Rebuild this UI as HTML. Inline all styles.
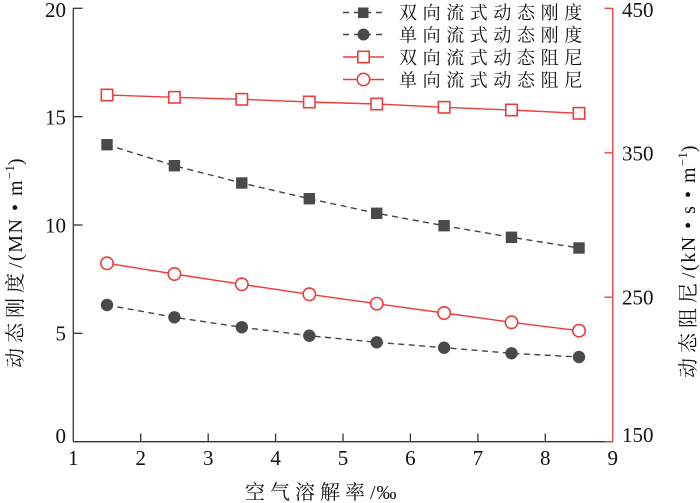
<!DOCTYPE html>
<html><head><meta charset="utf-8"><style>
html,body{margin:0;padding:0;background:#fff;}
svg{display:block;}
text{font-family:"Liberation Serif","Times New Roman","DejaVu Serif","Noto Serif CJK SC",serif;fill:#111;}
.n{font-size:21px;}
.c{font-size:20px;}
</style></head><body>
<svg width="700" height="503" viewBox="0 0 700 503" xmlns="http://www.w3.org/2000/svg" font-family="'Liberation Serif','Times New Roman','DejaVu Serif','Noto Serif CJK SC',serif">
<!-- axes -->
<g stroke="#333" stroke-width="1.3" fill="none">
<line x1="73.3" y1="8.3" x2="73.3" y2="441.7"/>
<line x1="73.3" y1="441.7" x2="612.7" y2="441.7"/>
<line x1="73.3" y1="8.3" x2="82.5" y2="8.3"/>
<line x1="73.3" y1="116.7" x2="82.5" y2="116.7"/>
<line x1="73.3" y1="225" x2="82.5" y2="225"/>
<line x1="73.3" y1="333.3" x2="82.5" y2="333.3"/>
<line x1="140.7" y1="441.7" x2="140.7" y2="433.5"/>
<line x1="208.2" y1="441.7" x2="208.2" y2="433.5"/>
<line x1="275.6" y1="441.7" x2="275.6" y2="433.5"/>
<line x1="343" y1="441.7" x2="343" y2="433.5"/>
<line x1="410.4" y1="441.7" x2="410.4" y2="433.5"/>
<line x1="477.9" y1="441.7" x2="477.9" y2="433.5"/>
<line x1="545.3" y1="441.7" x2="545.3" y2="433.5"/>
</g>
<g stroke="#ee3b3b" stroke-width="1.3" fill="none">
<line x1="612.7" y1="8.3" x2="612.7" y2="442.3"/>
<line x1="604.5" y1="8.3" x2="612.7" y2="8.3"/>
<line x1="604.5" y1="152.8" x2="612.7" y2="152.8"/>
<line x1="604.5" y1="297.2" x2="612.7" y2="297.2"/>
<line x1="604.5" y1="441.7" x2="612.7" y2="441.7"/>
</g>
<!-- left tick labels -->
<g class="n" text-anchor="end" font-size="21">
<text x="66" y="17">20</text>
<text x="66" y="124.5">15</text>
<text x="66" y="232.5">10</text>
<text x="66" y="340.5">5</text>
<text x="66" y="443">0</text>
</g>
<!-- right tick labels -->
<g class="n" text-anchor="start" font-size="21">
<text x="622" y="17">450</text>
<text x="622" y="160.5">350</text>
<text x="622" y="304.5">250</text>
<text x="622" y="442">150</text>
</g>
<!-- x tick labels -->
<g class="n" text-anchor="middle" font-size="21">
<text x="73.3" y="465">1</text>
<text x="140.7" y="465">2</text>
<text x="208.2" y="465">3</text>
<text x="275.6" y="465">4</text>
<text x="343" y="465">5</text>
<text x="410.4" y="465">6</text>
<text x="477.9" y="465">7</text>
<text x="545.3" y="465">8</text>
<text x="612.7" y="465">9</text>
</g>
<!-- axis titles -->
<text class="c" font-size="20" x="245" y="499"><tspan letter-spacing="5">空气溶解率</tspan><tspan letter-spacing="1">/‰</tspan></text>
<text class="c" font-size="20" transform="translate(22,368) rotate(-90)"><tspan letter-spacing="5">动态刚度</tspan><tspan letter-spacing="1.5">/(MN • m</tspan><tspan font-size="13" dy="-8">−1</tspan><tspan dy="8">)</tspan></text>
<text class="c" font-size="20" transform="translate(695,378) rotate(-90)"><tspan letter-spacing="5">动态阻尼</tspan><tspan letter-spacing="1.5">/(kN • s • m</tspan><tspan font-size="13" dy="-8">−1</tspan><tspan dy="8">)</tspan></text>

<!-- series lines -->
<polyline fill="none" stroke="#ee3b3b" stroke-width="1.4" points="107,95 174.4,97.3 241.8,99.3 309.3,102 376.7,104 444.1,107.3 511.5,110 579,113.3"/>
<polyline fill="none" stroke="#ee3b3b" stroke-width="1.4" points="107,263.3 174.4,274 241.8,284.3 309.3,294.3 376.7,303.7 444.1,313 511.5,322.3 579,330.7"/>
<polyline fill="none" stroke="#444" stroke-width="1.4" stroke-dasharray="6,4.5" points="107,144.7 174.4,165.7 241.8,183 309.3,198.7 376.7,213.3 444.1,225.7 511.5,237.3 579,248"/>
<polyline fill="none" stroke="#444" stroke-width="1.4" stroke-dasharray="6,4.5" points="107,305 174.4,317.3 241.8,327.3 309.3,335.7 376.7,342.3 444.1,347.7 511.5,353.3 579,357"/>

<!-- markers -->
<g fill="#fff" stroke="#ee3b3b" stroke-width="1.6">
<rect x="101.3" y="89.3" width="11.4" height="11.4"/>
<rect x="168.7" y="91.6" width="11.4" height="11.4"/>
<rect x="236.1" y="93.6" width="11.4" height="11.4"/>
<rect x="303.6" y="96.3" width="11.4" height="11.4"/>
<rect x="371" y="98.3" width="11.4" height="11.4"/>
<rect x="438.4" y="101.6" width="11.4" height="11.4"/>
<rect x="505.8" y="104.3" width="11.4" height="11.4"/>
<rect x="573.3" y="107.6" width="11.4" height="11.4"/>
<circle cx="107" cy="263.3" r="6.2"/>
<circle cx="174.4" cy="274" r="6.2"/>
<circle cx="241.8" cy="284.3" r="6.2"/>
<circle cx="309.3" cy="294.3" r="6.2"/>
<circle cx="376.7" cy="303.7" r="6.2"/>
<circle cx="444.1" cy="313" r="6.2"/>
<circle cx="511.5" cy="322.3" r="6.2"/>
<circle cx="579" cy="330.7" r="6.2"/>
</g>
<g fill="#4a4a4a">
<rect x="101.3" y="139" width="11.4" height="11.4"/>
<rect x="168.7" y="160" width="11.4" height="11.4"/>
<rect x="236.1" y="177.3" width="11.4" height="11.4"/>
<rect x="303.6" y="193" width="11.4" height="11.4"/>
<rect x="371" y="207.6" width="11.4" height="11.4"/>
<rect x="438.4" y="220" width="11.4" height="11.4"/>
<rect x="505.8" y="231.6" width="11.4" height="11.4"/>
<rect x="573.3" y="242.3" width="11.4" height="11.4"/>
<circle cx="107" cy="305" r="6.2"/>
<circle cx="174.4" cy="317.3" r="6.2"/>
<circle cx="241.8" cy="327.3" r="6.2"/>
<circle cx="309.3" cy="335.7" r="6.2"/>
<circle cx="376.7" cy="342.3" r="6.2"/>
<circle cx="444.1" cy="347.7" r="6.2"/>
<circle cx="511.5" cy="353.3" r="6.2"/>
<circle cx="579" cy="357" r="6.2"/>
</g>

<!-- legend -->
<line x1="343" y1="12.5" x2="385" y2="12.5" stroke="#444" stroke-width="1.4" stroke-dasharray="6,5"/>
<rect x="358" y="7.5" width="10.5" height="10.5" fill="#4a4a4a"/>
<line x1="343" y1="34.5" x2="385" y2="34.5" stroke="#444" stroke-width="1.4" stroke-dasharray="6,5"/>
<circle cx="363.5" cy="34.5" r="6" fill="#4a4a4a"/>
<line x1="343" y1="57" x2="384" y2="57" stroke="#ee3b3b" stroke-width="1.4"/>
<rect x="357.8" y="51.3" width="11.4" height="11.4" fill="#fff" stroke="#ee3b3b" stroke-width="1.6"/>
<line x1="343" y1="79.5" x2="384" y2="79.5" stroke="#ee3b3b" stroke-width="1.4"/>
<circle cx="363.5" cy="79.5" r="6.2" fill="#fff" stroke="#ee3b3b" stroke-width="1.6"/>
<g class="c" font-size="18" style="font-size:18px" letter-spacing="5.6">
<text x="399" y="19">双向流式动态刚度</text>
<text x="399" y="41.5">单向流式动态刚度</text>
<text x="399" y="64">双向流式动态阻尼</text>
<text x="399" y="86.5">单向流式动态阻尼</text>
</g>
</svg>
</body></html>
